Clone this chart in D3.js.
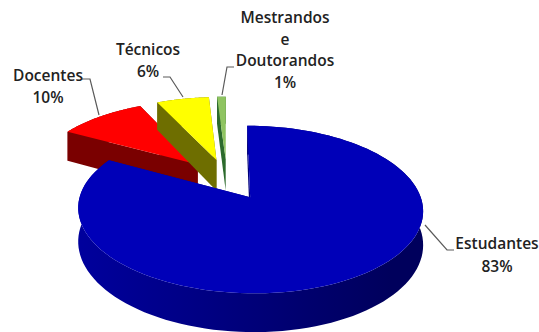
<!DOCTYPE html>
<html>
<head>
<meta charset="utf-8">
<script src="https://cdn.jsdelivr.net/npm/d3@7"></script>
<style>
html,body{margin:0;padding:0;background:#fff}
svg{display:block}
text{font-family:"Open Sans",Lato,sans-serif;font-weight:600;font-size:15.5px;fill:#222;text-anchor:middle}
</style>
</head>
<body>
<svg id="chart" width="539" height="332"></svg>
<script>
// Composition of the academic community, as an exploded 3D pie.
const categories = ["Estudantes", "Docentes", "Técnicos", "Mestrandos e Doutorandos"];
const shares = [83, 10, 6, 1];
const topColors = ["#0000b8", "#ff0000", "#ffff00", "#8fc461"];
const wallColors = [["#0000a0", "#00005c"], ["#7a0000", "#7a0000"], ["#6e6e00", "#6e6e00"], ["#2c6a2c", "#2c6a2c"]];

// Label blocks: text lines, anchor centre, first baseline.
const labelLines = [
  ["Estudantes", "83%"],
  ["Docentes", "10%"],
  ["Técnicos", "6%"],
  ["Mestrandos", "e", "Doutorandos", "1%"]
];
const labelX = [497, 48, 148, 285];
const labelY = [249, 81, 55, 23];
const lineGap = [23, 22, 22, 21.7];
const leaders = [
  [[425, 225], [447, 250], [454, 250]],
  [[82, 79], [90, 79], [99, 115]],
  [[163, 77], [170, 77], [183, 97]],
  [[234, 67], [227, 67], [222, 95]]
];

// Projection of the pie plane onto the page.
const centerX = 227, centerY = 179, radius = 165, explode = 44;
const tilt = 0.465, viewDistance = 1160, depth = 32;

const project = (X, Y, Z = 0) => {
  const s = viewDistance / (viewDistance + Y);
  return [centerX + X * s, centerY - tilt * Y * s + Z * s];
};

const slices = d3.pie().sort(null).value(d => d)(shares);
const svg = d3.select("#chart");
const path = d3.line();

// Horizontal shading for the side walls, spanning the whole pie width.
const defs = svg.append("defs");
wallColors.forEach((pair, i) => {
  const grad = defs.append("linearGradient").attr("id", `wall${i}`)
    .attr("gradientUnits", "userSpaceOnUse")
    .attr("x1", centerX - radius).attr("x2", centerX + radius)
    .attr("y1", 0).attr("y2", 0);
  grad.append("stop").attr("offset", 0).attr("stop-color", pair[0]);
  grad.append("stop").attr("offset", 1).attr("stop-color", pair[1]);
});

// Far slices first so the large slice overlaps them.
const order = [1, 2, 3, 0];
order.forEach(i => {
  const { startAngle: a0, endAngle: a1 } = slices[i];
  const mid = (a0 + a1) / 2;
  const ox = Math.sin(mid) * explode, oy = Math.cos(mid) * explode;
  const point = (a, r, z = 0) =>
    project(ox + Math.sin(a) * r, oy + Math.cos(a) * r, z);
  const angles = d3.range(0, 121).map(k => a0 + (a1 - a0) * k / 120);
  const g = svg.append("g");

  // Outer wall, then the two radial walls, then the top face.
  const rim = angles.map(a => point(a, radius));
  const rimLow = angles.map(a => point(a, radius, depth)).reverse();
  g.append("path").attr("d", path(rim.concat(rimLow)) + "Z").attr("fill", `url(#wall${i})`);
  [a1, a0].forEach(a => {
    g.append("path")
      .attr("d", path([point(a, 0), point(a, radius), point(a, radius, depth), point(a, 0, depth)]) + "Z")
      .attr("fill", `url(#wall${i})`);
  });
  g.append("path").attr("d", path([point(a0, 0), ...rim]) + "Z").attr("fill", topColors[i]);
});

// Leader lines and labels.
leaders.forEach(pts => {
  svg.append("path").attr("d", path(pts)).attr("fill", "none")
    .attr("stroke", "#5a5a5a").attr("stroke-width", 1.2);
});
labelLines.forEach((lines, i) => {
  const t = svg.append("text").attr("transform", `translate(${labelX[i]},${labelY[i]})`);
  lines.forEach((line, k) => t.append("tspan").attr("x", 0).attr("y", k * lineGap[i]).text(line));
});
</script>
</body>
</html>
